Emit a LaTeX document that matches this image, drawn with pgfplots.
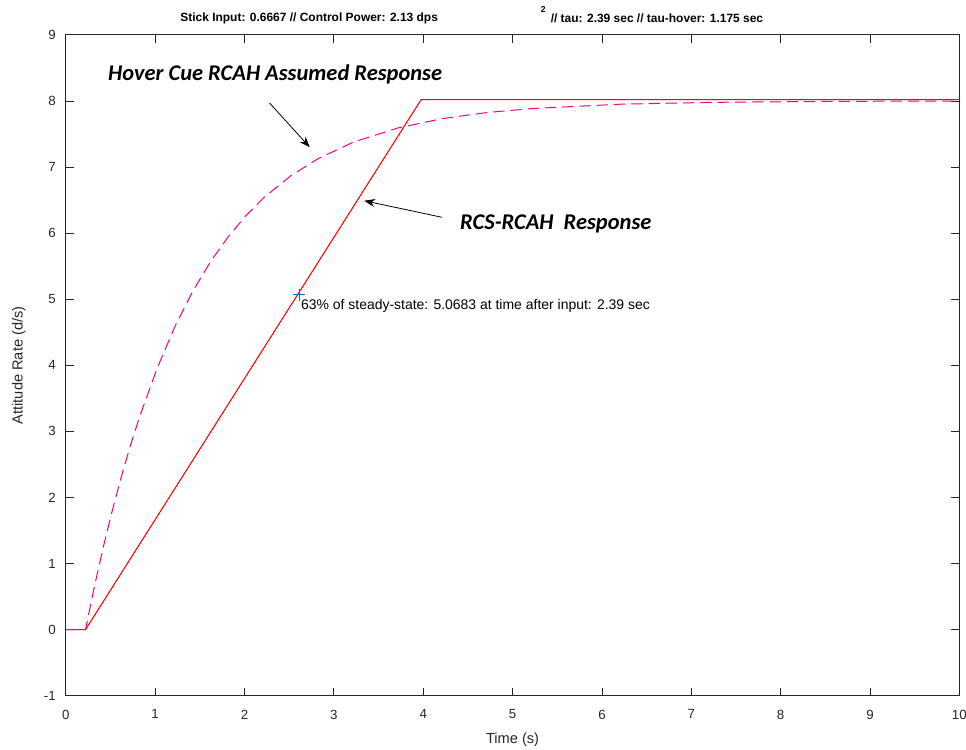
\documentclass[border=0pt]{standalone}
\usepackage{pgfplots}
\pgfplotsset{compat=1.18}
\usepackage{fontspec}
\setmainfont{Liberation Sans}
\newfontfamily\carlito{Carlito}
\usetikzlibrary{calc,arrows.meta}
\definecolor{axgray}{RGB}{38,38,38}
\definecolor{mblue}{RGB}{0,114,189}
\begin{document}
\begin{tikzpicture}
\begin{axis}[name=ax,
  scale only axis, width=672pt, height=497pt,
  xmin=0, xmax=10, ymin=-1, ymax=9,
  xtick={0,1,...,10}, ytick={-1,0,...,9},
  tick align=inside, major tick length=6pt,
  axis line style={axgray, line width=0.6pt},
  every tick/.style={axgray, line width=0.6pt},
  tick label style={font=\fontsize{10}{12}\selectfont, text=axgray},
  xticklabel style={yshift=-7pt},
  yticklabel style={xshift=-4pt},
  /pgf/number format/assume math mode=true,
  clip=false,
]
\addplot[red, line width=0.8pt] coordinates {
(0,0) (0.22,0) (3.976,8.02) (10,8.02)};
\addplot[magenta, line width=0.75pt, dash pattern=on 8.5pt off 4.5pt] coordinates {
(0,0) (0.22,0) (0.32,0.653) (0.42,1.252) (0.52,1.802) (0.62,2.308) (0.72,2.773)
(0.82,3.199) (1.02,3.950) (1.22,4.585) (1.42,5.119) (1.62,5.570) (1.82,5.950)
(2.02,6.271) (2.22,6.542) (2.52,6.870) (2.82,7.125) (3.22,7.378) (3.72,7.593)
(4.22,7.735) (4.72,7.826) (5.22,7.886) (6.22,7.952) (7.22,7.979) (8.22,7.991)
(9.22,7.997) (10,8.0)};
\addplot[mblue, only marks, mark=+, mark size=4.5pt, line width=0.8pt] coordinates {(2.61,5.0683)};
\node[anchor=west, font=\fontsize{10.5}{12}\selectfont, inner sep=0pt] at (axis cs:2.63,4.9) {63\% of steady-state: 5.0683 at time after input: 2.39 sec};
\node[anchor=west, font=\carlito\bfseries\itshape\fontsize{16.9}{20}\selectfont, inner sep=0pt] at (axis cs:0.47,8.40) {Hover Cue RCAH Assumed Response};
\node[anchor=west, font=\carlito\bfseries\itshape\fontsize{16.9}{20}\selectfont, inner sep=0pt] at (axis cs:4.41,6.14) {RCS-RCAH\ \ Response};
\draw[-{Stealth[length=8pt,width=6pt]}, line width=0.6pt] (axis cs:2.28,7.97) -- (axis cs:2.73,7.30);
\draw[-{Stealth[length=8pt,width=6pt]}, line width=0.6pt] (axis cs:4.21,6.24) -- (axis cs:3.34,6.49);
\end{axis}
\node[font=\fontsize{11}{13}\selectfont, text=axgray] at ($(ax.south)+(0,-33pt)$) {Time (s)};
\node[font=\fontsize{11}{13}\selectfont, text=axgray, rotate=90] at ($(ax.west)+(-35.25pt,0)$) {Attitude Rate (d/s)};
\node[font=\bfseries\fontsize{9}{11}\selectfont, anchor=base, inner sep=0pt] at ($(ax.north west)+(183pt,9.75pt)$) {Stick Input: 0.6667 // Control Power: 2.13 dps};
\node[font=\bfseries\fontsize{9}{11}\selectfont, anchor=base west, inner sep=0pt] at ($(ax.north west)+(364.5pt,9pt)$) {// tau: 2.39 sec // tau-hover: 1.175 sec};
\node[font=\bfseries\fontsize{6.5}{8}\selectfont, anchor=base west, inner sep=0pt] at ($(ax.north west)+(357pt,16.5pt)$) {2};
\pgfresetboundingbox
\path ($(ax.south west)+(-49.5pt,-40.5pt)$) rectangle ($(ax.north east)+(5pt,26.25pt)$);
\end{tikzpicture}
\end{document}
